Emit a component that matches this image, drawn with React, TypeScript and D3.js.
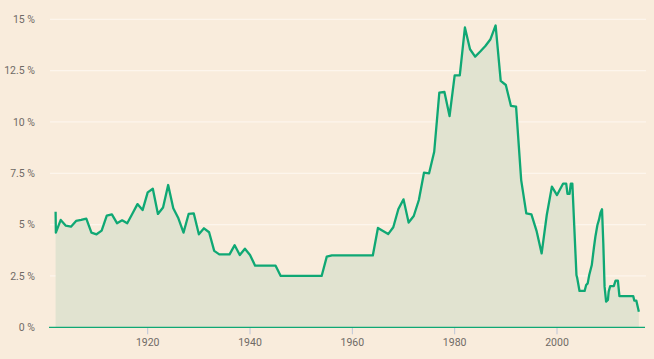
import React from "react";
import * as d3 from "d3";

// Years (fractional where the series moves within a year)
const years: number[] = [
  1902, 1902.05, 1903, 1904, 1905, 1906, 1907, 1908, 1909, 1910,
  1911, 1912, 1913, 1914, 1915, 1916, 1917, 1918, 1919, 1920,
  1921, 1922, 1923, 1924, 1925, 1926, 1927, 1928, 1929, 1930,
  1931, 1932, 1933, 1934, 1935, 1936, 1937, 1938, 1939, 1940,
  1941, 1942, 1943, 1944, 1945, 1946, 1947, 1948, 1949, 1950,
  1951, 1952, 1953, 1954, 1955, 1956, 1957, 1958, 1959, 1960,
  1961, 1962, 1963, 1964, 1965, 1966, 1967, 1968, 1969, 1970,
  1971, 1972, 1973, 1974, 1975, 1976, 1977, 1978, 1979, 1980,
  1981, 1982, 1983, 1984, 1985, 1986, 1987, 1988, 1989, 1990,
  1991, 1992, 1993, 1994, 1995, 1996, 1997, 1998, 1999, 2000,
  2001.2, 2001.8, 2002.05, 2002.45, 2002.7, 2003.0, 2003.8, 2003.95,
  2004.4, 2005.4, 2005.7, 2006.0, 2006.3, 2006.8, 2007.2, 2007.5,
  2007.9, 2008.2, 2008.5, 2008.8, 2009.05, 2009.3, 2009.6, 2009.95,
  2010.1, 2010.4, 2011.1, 2011.45, 2011.9, 2012.2, 2014.9, 2015.1,
  2015.5, 2016.0,
];

// Interest rate, per cent
const rates: number[] = [
  5.63, 4.61, 5.23, 4.95, 4.9, 5.18, 5.23, 5.29, 4.61, 4.53,
  4.71, 5.44, 5.5, 5.07, 5.21, 5.07, 5.53, 6.0, 5.71, 6.57,
  6.75, 5.52, 5.83, 6.93, 5.8, 5.31, 4.61, 5.52, 5.55, 4.53,
  4.82, 4.63, 3.72, 3.55, 3.55, 3.55, 4.0, 3.52, 3.83, 3.52,
  3.0, 3.0, 3.0, 3.0, 3.0, 2.5, 2.5, 2.5, 2.5, 2.5,
  2.5, 2.5, 2.5, 2.5, 3.44, 3.5, 3.5, 3.5, 3.5, 3.5,
  3.5, 3.5, 3.5, 3.5, 4.84, 4.69, 4.54, 4.87, 5.76, 6.23,
  5.1, 5.42, 6.2, 7.53, 7.5, 8.55, 11.43, 11.46, 10.29, 12.27,
  12.27, 14.6, 13.54, 13.18, 13.43, 13.7, 14.03, 14.7, 12.0, 11.8,
  10.78, 10.75, 7.17, 5.55, 5.5, 4.7, 3.6, 5.47, 6.85, 6.44,
  7.0, 7.0, 6.5, 6.5, 7.0, 7.0, 2.55, 2.4,
  1.77, 1.77, 2.06, 2.14, 2.55, 3.03, 3.85, 4.41,
  4.98, 5.23, 5.58, 5.75, 4.09, 1.98, 1.25, 1.33,
  1.74, 2.01, 2.01, 2.27, 2.27, 1.52, 1.52, 1.3,
  1.3, 0.76,
];

const xTicks: number[] = [1920, 1940, 1960, 1980, 2000];
const yTicks: number[] = [0, 2.5, 5, 7.5, 10, 12.5, 15];
const yTickLabels: string[] = ["0 %", "2.5 %", "5 %", "7.5 %", "10 %", "12.5 %", "15 %"];

const W = 654;
const H = 359;
const BG = "#f9ecdc";
const LINE = "#0fa874";
const FILL = "#e1e3d0";
const GRID = "#fdf5ec";
const TEXT = "#6f6a66";
const FONT = "Roboto, 'Open Sans', sans-serif";

export default function App() {
  const x = d3.scaleLinear().domain([1920, 2000]).range([147.7, 557]);
  const y = d3.scaleLinear().domain([0, 15]).range([327.3, 19.3]);
  const pts: [number, number][] = years.map((yr, i) => [yr, rates[i]]);

  const line = d3
    .line<[number, number]>()
    .x((d) => x(d[0]))
    .y((d) => y(d[1]));
  const area = d3
    .area<[number, number]>()
    .x((d) => x(d[0]))
    .y0(y(0))
    .y1((d) => y(d[1]));

  const gridX0 = 50;
  const gridX1 = 646;

  return (
    <svg
      width={W}
      height={H}
      style={{ position: "absolute", left: 0, top: 0, display: "block" }}
    >
      <rect x={0} y={0} width={W} height={H} fill={BG} />
      {yTicks.map((t, i) => (
        <g key={t}>
          {t > 0 && (
            <line x1={gridX0} x2={gridX1} y1={y(t)} y2={y(t)} stroke={GRID} strokeWidth={1.2} />
          )}
          <text
            x={35}
            y={y(t)}
            dy="0.35em"
            textAnchor="end"
            fontFamily={FONT}
            fontSize={10.5}
            fill={TEXT}
          >
            {yTickLabels[i]}
          </text>
        </g>
      ))}
      <path d={area(pts) || ""} fill={FILL} />
      <path
        d={line(pts) || ""}
        fill="none"
        stroke={LINE}
        strokeWidth={2.3}
        strokeLinejoin="round"
      />
      {xTicks.map((t) => (
        <g key={t}>
          <line x1={x(t)} x2={x(t)} y1={y(0)} y2={y(0) + 7} stroke="#bcc6d8" strokeWidth={1} />
          <text
            x={x(t)}
            y={342}
            dy="0.35em"
            textAnchor="middle"
            fontFamily={FONT}
            fontSize={10.5}
            fill={TEXT}
          >
            {t}
          </text>
        </g>
      ))}
      <line x1={49} x2={645} y1={y(0)} y2={y(0)} stroke={LINE} strokeWidth={1.3} />
    </svg>
  );
}
